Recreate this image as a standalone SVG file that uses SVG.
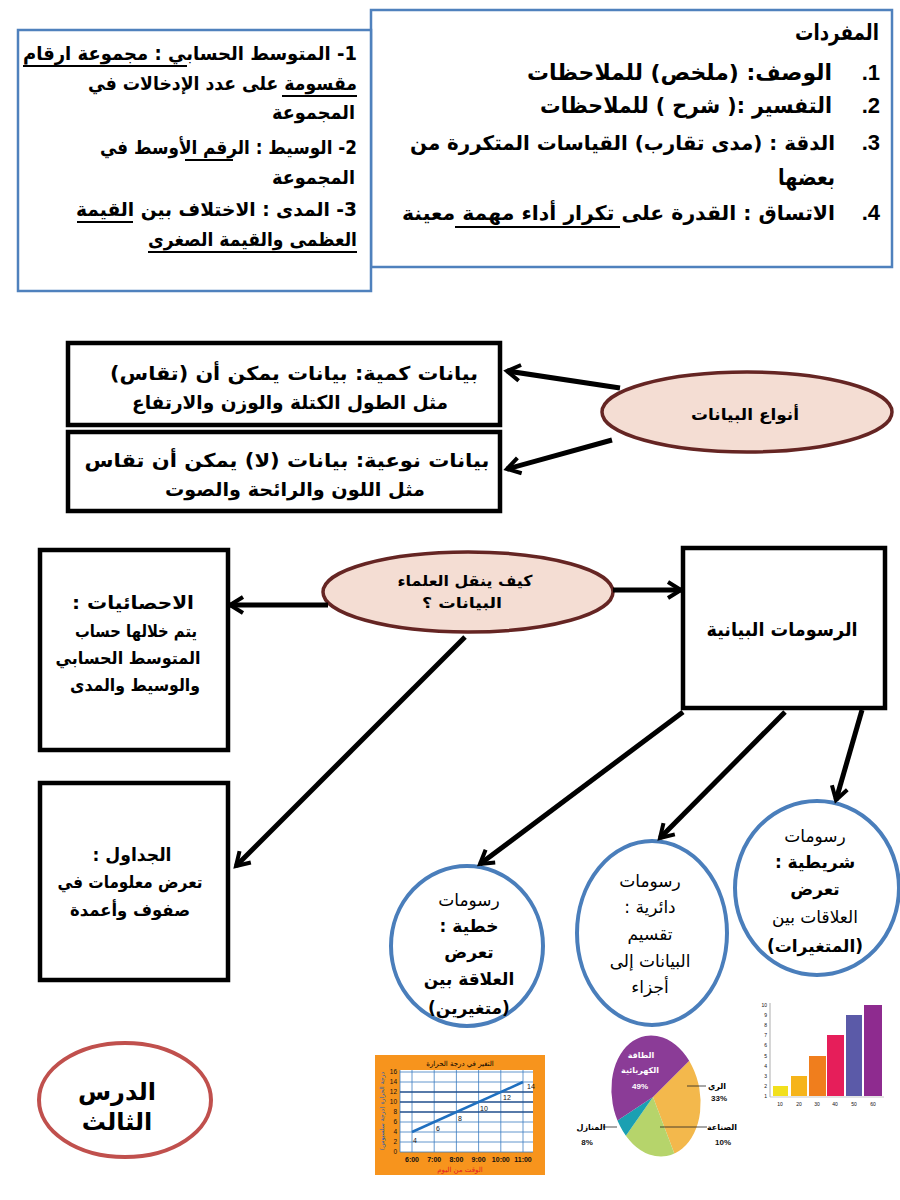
<svg xmlns="http://www.w3.org/2000/svg" width="900" height="1200" viewBox="0 0 900 1200">
<defs>
<style>
.ar{font-family:"DejaVu Sans","Noto Sans",sans-serif;direction:rtl;fill:#000}
.arl{font-family:"DejaVu Sans","Noto Sans",sans-serif;fill:#000}
.b{font-weight:bold}
.num{font-family:"Liberation Sans",Arial,sans-serif;font-weight:bold;fill:#000;direction:ltr;unicode-bidi:bidi-override}
.bluebox{fill:#fff;stroke:#4f81bd;stroke-width:2.5}
.blk{fill:#fff;stroke:#000;stroke-width:4.5}
.circ{fill:#fff;stroke:#4a7ebb;stroke-width:4}
.oval{fill:#f4ddd3;stroke:#652523;stroke-width:3.5}
.ul{stroke:#000;stroke-width:2}
.conn{stroke:#000;stroke-width:5;fill:none;marker-end:url(#ah)}
.small{font-family:"Liberation Sans",Arial,sans-serif;fill:#111}
.grid{stroke:#3b7cc0;stroke-width:0.8}
</style>
<marker id="ah" viewBox="0 0 20 20" refX="16" refY="10" markerWidth="20" markerHeight="20" markerUnits="userSpaceOnUse" orient="auto">
<path d="M3,2 L16,10 L3,18" fill="none" stroke="#000" stroke-width="4" stroke-linejoin="miter"/>
</marker>
<clipPath id="pieclip"><ellipse cx="656" cy="1096" rx="44" ry="61" transform="rotate(-10 656 1096)"/></clipPath>
</defs>
<rect width="900" height="1200" fill="#fff"/>

<g id="vocab">
<rect class="bluebox" x="371" y="10" width="521" height="257"/>
<text class="ar b" x="879" y="40" font-size="22" textLength="84" lengthAdjust="spacingAndGlyphs">المفردات</text>
<text class="num" x="880" y="80" font-size="22" text-anchor="end">.1</text>
<text class="num" x="880" y="113" font-size="22" text-anchor="end">.2</text>
<text class="num" x="880" y="150" font-size="22" text-anchor="end">.3</text>
<text class="num" x="880" y="220" font-size="22" text-anchor="end">.4</text>
<text class="ar b" x="832" y="80" font-size="22" textLength="305" lengthAdjust="spacingAndGlyphs">الوصف:  (ملخص) للملاحظات</text>
<text class="ar b" x="832" y="113" font-size="22" textLength="292" lengthAdjust="spacingAndGlyphs">التفسير :( شرح ) للملاحظات</text>
<text class="arl b" x="835" y="150" font-size="20" text-anchor="end" textLength="425" lengthAdjust="spacingAndGlyphs">الدقة : (مدى تقارب) القياسات المتكررة من</text>
<text class="ar b" x="835" y="185" font-size="22" textLength="57" lengthAdjust="spacingAndGlyphs">بعضها</text>
<text class="arl b" x="835" y="220" font-size="20" text-anchor="end" textLength="433" lengthAdjust="spacingAndGlyphs">الاتساق : القدرة على تكرار أداء مهمة معينة</text>
<line class="ul" x1="455" y1="227" x2="620" y2="227"/>
</g>

<g id="stats-defs">
<rect class="bluebox" x="18" y="30" width="353" height="261"/>
<text class="ar b" x="357" y="60" font-size="19" textLength="334" lengthAdjust="spacingAndGlyphs">1- المتوسط الحسابي : مجموعة ارقام</text>
<text class="ar b" x="357" y="90" font-size="19" textLength="269" lengthAdjust="spacingAndGlyphs">مقسومة على عدد الإدخالات في</text>
<text class="ar b" x="355" y="119" font-size="19" textLength="83" lengthAdjust="spacingAndGlyphs">المجموعة</text>
<text class="ar b" x="357" y="154" font-size="19" textLength="257" lengthAdjust="spacingAndGlyphs">2- الوسيط : الرقم الأوسط في</text>
<text class="ar b" x="355" y="184" font-size="19" textLength="83" lengthAdjust="spacingAndGlyphs">المجموعة</text>
<text class="ar b" x="357" y="216" font-size="19" textLength="281" lengthAdjust="spacingAndGlyphs">3- المدى : الاختلاف بين القيمة</text>
<text class="ar b" x="357" y="246" font-size="19" textLength="209" lengthAdjust="spacingAndGlyphs">العظمى والقيمة الصغرى</text>
<line class="ul" x1="23" y1="66" x2="187" y2="66"/>
<line class="ul" x1="282" y1="96" x2="357" y2="96"/>
<line class="ul" x1="185" y1="160" x2="233" y2="160"/>
<line class="ul" x1="77" y1="222" x2="133" y2="222"/>
<line class="ul" x1="148" y1="252" x2="357" y2="252"/>
</g>

<g id="quantitative">
<rect class="blk" x="68" y="343" width="432" height="82"/>
<text class="ar b" x="294" y="380" font-size="19" text-anchor="middle" textLength="368" lengthAdjust="spacingAndGlyphs">بيانات كمية: بيانات يمكن أن (تقاس)</text>
<text class="ar b" x="290" y="409" font-size="19" text-anchor="middle" textLength="316" lengthAdjust="spacingAndGlyphs">مثل الطول الكتلة والوزن والارتفاع</text>
</g>

<g id="qualitative">
<rect class="blk" x="68" y="432" width="432" height="79"/>
<text class="ar b" x="287" y="467" font-size="19" text-anchor="middle" textLength="405" lengthAdjust="spacingAndGlyphs">بيانات نوعية: بيانات (لا) يمكن أن تقاس</text>
<text class="ar b" x="295" y="496" font-size="19" text-anchor="middle" textLength="260" lengthAdjust="spacingAndGlyphs">مثل اللون والرائحة والصوت</text>
</g>

<g id="data-types">
<ellipse class="oval" cx="747" cy="412" rx="145" ry="40"/>
<text class="ar b" x="745" y="420" font-size="16" text-anchor="middle" textLength="108" lengthAdjust="spacingAndGlyphs">أنواع البيانات</text>
</g>

<g id="how-communicate">
<ellipse class="oval" cx="468" cy="592" rx="145" ry="40"/>
<text class="ar b" x="465" y="586" font-size="15" text-anchor="middle" textLength="135" lengthAdjust="spacingAndGlyphs">كيف ينقل العلماء</text>
<text class="ar b" x="462" y="608" font-size="15" text-anchor="middle" textLength="80" lengthAdjust="spacingAndGlyphs">البيانات ؟</text>
</g>

<g id="statistics">
<rect class="blk" x="40" y="550" width="188" height="200"/>
<text class="ar b" x="133" y="609" font-size="18" text-anchor="middle" textLength="122" lengthAdjust="spacingAndGlyphs">الاحصائيات :</text>
<text class="ar b" x="136" y="637" font-size="17" text-anchor="middle" textLength="122" lengthAdjust="spacingAndGlyphs">يتم خلالها حساب</text>
<text class="ar b" x="128" y="664" font-size="17" text-anchor="middle" textLength="145" lengthAdjust="spacingAndGlyphs">المتوسط الحسابي</text>
<text class="ar b" x="135" y="691" font-size="17" text-anchor="middle" textLength="130" lengthAdjust="spacingAndGlyphs">والوسيط والمدى</text>
</g>

<g id="graphs">
<rect class="blk" x="683" y="548" width="202" height="160"/>
<text class="ar b" x="782" y="636" font-size="19" text-anchor="middle" textLength="151" lengthAdjust="spacingAndGlyphs">الرسومات البيانية</text>
</g>

<g id="tables">
<rect class="blk" x="40" y="783" width="188" height="197"/>
<text class="ar b" x="132" y="861" font-size="18" text-anchor="middle" textLength="79" lengthAdjust="spacingAndGlyphs">الجداول :</text>
<text class="ar b" x="130" y="888" font-size="17" text-anchor="middle" textLength="145" lengthAdjust="spacingAndGlyphs">تعرض معلومات في</text>
<text class="ar b" x="130" y="916" font-size="17" text-anchor="middle" textLength="120" lengthAdjust="spacingAndGlyphs">صفوف وأعمدة</text>
</g>

<g id="line-graphs">
<ellipse class="circ" cx="467" cy="946" rx="76" ry="80"/>
<text class="ar" x="469" y="906" font-size="17" text-anchor="middle">رسومات</text>
<text class="ar b" x="469" y="932" font-size="17" text-anchor="middle">خطية :</text>
<text class="ar b" x="469" y="958" font-size="17" text-anchor="middle">تعرض</text>
<text class="ar b" x="469" y="985" font-size="17" text-anchor="middle">العلاقة بين</text>
<text class="ar b" x="469" y="1014" font-size="17" text-anchor="middle">(متغيرين)</text>
</g>

<g id="pie-graphs">
<ellipse class="circ" cx="652" cy="933" rx="75" ry="92"/>
<text class="ar" x="650" y="887" font-size="17" text-anchor="middle">رسومات</text>
<text class="ar" x="650" y="913" font-size="17" text-anchor="middle">دائرية :</text>
<text class="ar" x="650" y="940" font-size="17" text-anchor="middle">تقسيم</text>
<text class="ar" x="650" y="967" font-size="17" text-anchor="middle">البيانات إلى</text>
<text class="ar" x="650" y="993" font-size="17" text-anchor="middle">أجزاء</text>
</g>

<g id="bar-graphs">
<ellipse class="circ" cx="817" cy="888" rx="82" ry="87"/>
<text class="ar" x="815" y="842" font-size="17" text-anchor="middle">رسومات</text>
<text class="ar b" x="815" y="868" font-size="17" text-anchor="middle">شريطية :</text>
<text class="ar b" x="815" y="895" font-size="17" text-anchor="middle">تعرض</text>
<text class="ar" x="815" y="923" font-size="17" text-anchor="middle">العلاقات بين</text>
<text class="ar b" x="815" y="952" font-size="17" text-anchor="middle">(المتغيرات)</text>
</g>

<g id="lesson">
<ellipse cx="125" cy="1100" rx="86" ry="57" fill="#fff" stroke="#c0504d" stroke-width="4"/>
<text class="ar b" x="117" y="1100" font-size="24" text-anchor="middle">الدرس</text>
<text class="ar b" x="117" y="1130" font-size="24" text-anchor="middle">الثالث</text>
</g>

<g id="connectors">
<line class="conn" x1="620" y1="388" x2="507" y2="371" stroke-width="6"/>
<line class="conn" x1="612" y1="440" x2="507" y2="469" stroke-width="6"/>
<line class="conn" x1="328" y1="605" x2="230" y2="605"/>
<line class="conn" x1="613" y1="590" x2="681" y2="590"/>
<line class="conn" x1="465" y1="637" x2="236" y2="866"/>
<line class="conn" x1="683" y1="712" x2="480" y2="864"/>
<line class="conn" x1="785" y1="712" x2="660" y2="838"/>
<line class="conn" x1="862" y1="710" x2="836" y2="800"/>
</g>

<g id="line-chart">
<rect x="375" y="1055" width="170" height="120" fill="#f7941d"/>
<rect x="400" y="1070" width="133" height="82" fill="#fff"/>
<g class="grid">
<line x1="400" y1="1070" x2="400" y2="1152"/>
<line x1="412" y1="1070" x2="412" y2="1152"/>
<line x1="434.2" y1="1070" x2="434.2" y2="1152"/>
<line x1="456.4" y1="1070" x2="456.4" y2="1152"/>
<line x1="478.6" y1="1070" x2="478.6" y2="1152"/>
<line x1="500.8" y1="1070" x2="500.8" y2="1152"/>
<line x1="523" y1="1070" x2="523" y2="1152"/>
<line x1="400" y1="1072" x2="533" y2="1072"/>
<line x1="400" y1="1082" x2="533" y2="1082"/>
<line x1="400" y1="1122" x2="533" y2="1122"/>
<line x1="400" y1="1132" x2="533" y2="1132"/>
<line x1="400" y1="1142" x2="533" y2="1142"/>
<line x1="400" y1="1152" x2="533" y2="1152"/>
</g>
<g stroke="#1f4e8c" stroke-width="1.5">
<line x1="400" y1="1092" x2="533" y2="1092"/>
<line x1="400" y1="1102" x2="533" y2="1102"/>
<line x1="400" y1="1112" x2="533" y2="1112"/>
</g>
<line x1="412" y1="1132" x2="523" y2="1082" stroke="#1f6fbf" stroke-width="2.5"/>
<text class="ar" x="460" y="1066" font-size="7" text-anchor="middle">التغير في درجة الحرارة</text>
<g class="small" font-size="6.5" text-anchor="end">
<text x="397" y="1154">0</text><text x="397" y="1144">2</text><text x="397" y="1134">4</text><text x="397" y="1124">6</text><text x="397" y="1114">8</text><text x="397" y="1104">10</text><text x="397" y="1094">12</text><text x="397" y="1084">14</text><text x="397" y="1074">16</text>
</g>
<g class="small" font-size="7" text-anchor="middle" font-weight="bold">
<text x="412" y="1162">6:00</text><text x="434.2" y="1162">7:00</text><text x="456.4" y="1162">8:00</text><text x="478.6" y="1162">9:00</text><text x="500.8" y="1162">10:00</text><text x="523" y="1162">11:00</text>
</g>
<g class="small" font-size="7">
<text x="413" y="1143">4</text><text x="436" y="1131">6</text><text x="458" y="1121">8</text><text x="480" y="1111">10</text><text x="503" y="1100">12</text><text x="527" y="1089">14</text>
</g>
<text class="ar" x="460" y="1172" font-size="7" style="fill:#e31b23" text-anchor="middle">الوقت من اليوم</text>
<text class="ar" transform="translate(384 1111) rotate(-90)" font-size="6" style="fill:#1f5fb0" text-anchor="middle">درجة الحرارة (درجة سلسيوس)</text>
</g>

<g id="pie-chart">
<g clip-path="url(#pieclip)">
<polygon points="653,1097 801,949 900,1000 900,1300 733,1309" fill="#f3b84c"/>
<polygon points="653,1097 733,1309 541,1257" fill="#b6d46b"/>
<polygon points="653,1097 541,1257 501,1197" fill="#1ba0b2"/>
<polygon points="653,1097 501,1197 400,1000 700,900 801,949" fill="#8b3c97"/>
</g>
<text class="ar b" x="641" y="1058" font-size="8" style="fill:#fff" text-anchor="middle">الطاقة</text>
<text class="ar b" x="640" y="1073" font-size="8" style="fill:#fff" text-anchor="middle">الكهربائية</text>
<text class="small" x="640" y="1089" font-size="8" font-weight="bold" style="fill:#fff" text-anchor="middle">49%</text>
<g stroke="#222" stroke-width="0.8">
<line x1="687" y1="1086" x2="706" y2="1086"/>
<line x1="660" y1="1127" x2="707" y2="1127"/>
<line x1="603" y1="1127" x2="617" y2="1127"/>
</g>
<text class="ar b" x="717" y="1089" font-size="8" text-anchor="middle">الري</text>
<text class="small" x="719" y="1101" font-size="8" font-weight="bold" text-anchor="middle">33%</text>
<text class="ar b" x="722" y="1130" font-size="8" text-anchor="middle">الصناعة</text>
<text class="small" x="723" y="1145" font-size="8" font-weight="bold" text-anchor="middle">10%</text>
<text class="ar b" x="591" y="1130" font-size="8" text-anchor="middle">المنازل</text>
<text class="small" x="587" y="1145" font-size="8" font-weight="bold" text-anchor="middle">8%</text>
</g>

<g id="bar-chart">
<line x1="770" y1="1003" x2="770" y2="1097" stroke="#999" stroke-width="0.8"/>
<line x1="770" y1="1097" x2="884" y2="1097" stroke="#bbb" stroke-width="0.8"/>
<rect x="773" y="1086" width="15" height="10" fill="#f2e01d"/>
<rect x="791" y="1076" width="16" height="20" fill="#f6b41a"/>
<rect x="809" y="1056" width="17" height="40" fill="#f07e1d"/>
<rect x="827" y="1035" width="17" height="61" fill="#e61e5a"/>
<rect x="846" y="1015" width="16" height="81" fill="#5b5aa8"/>
<rect x="864" y="1005" width="18" height="91" fill="#8e2b8f"/>
<g class="small" font-size="5" text-anchor="end" fill="#333">
<text x="767" y="1098">1</text><text x="767" y="1088">2</text><text x="767" y="1078">3</text><text x="767" y="1068">4</text><text x="767" y="1058">5</text><text x="767" y="1047">6</text><text x="767" y="1037">7</text><text x="767" y="1027">8</text><text x="767" y="1017">9</text><text x="767" y="1007">10</text>
</g>
<g class="small" font-size="5" text-anchor="middle" fill="#333">
<text x="780" y="1106">10</text><text x="799" y="1106">20</text><text x="817" y="1106">30</text><text x="835" y="1106">40</text><text x="854" y="1106">50</text><text x="873" y="1106">60</text>
</g>
</g>
</svg>
